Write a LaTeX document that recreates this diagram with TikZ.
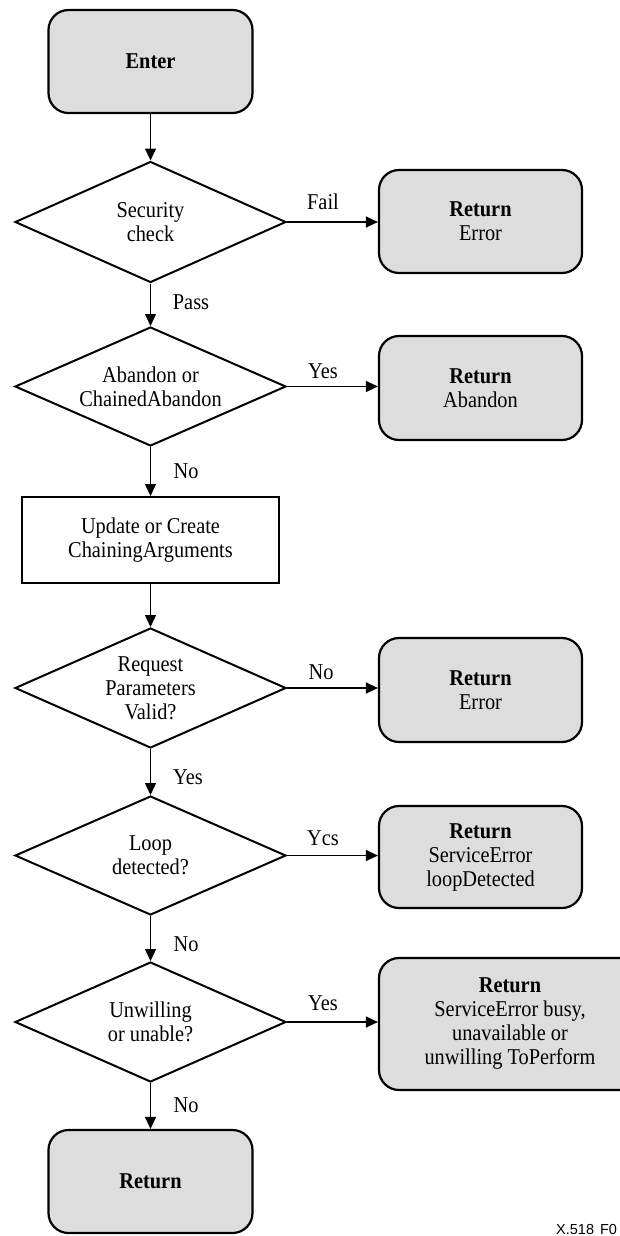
\documentclass[tikz,border=0pt]{standalone}
\usepackage{fontspec}
\setmainfont{Liberation Serif}[FakeStretch=0.9]
\newfontfamily\labsans{Liberation Sans}
\usetikzlibrary{shapes.geometric,arrows.meta}
\definecolor{boxgray}{RGB}{221,221,221}
\begin{document}
\begin{tikzpicture}[x=1pt,y=-1pt,
  every node/.style={font=\fontsize{22.6}{24}\selectfont, inner sep=0pt},
  term/.style={draw, line width=2.2pt, fill=boxgray, rounded corners=20pt, align=center, rectangle},
  dec/.style={draw, diamond, shape aspect=2.27, line width=2pt, minimum width=271pt, align=center},
  proc/.style={draw, rectangle, line width=2pt, minimum width=257pt, minimum height=86pt, align=center},
  lbl/.style={anchor=center},
  arr/.style={line width=1.3pt, -{Triangle[length=12pt,width=11pt]}}]
\path[use as bounding box] (0,0) rectangle (620,1236);
\clip (0,0) rectangle (620,1236);

% main column
\node[term, minimum width=204pt, minimum height=103pt] (enter) at (150.5,61.5) {\textbf{Enter}};
\node[dec, minimum height=121pt] (d1) at (150.5,222) {Security\\check};
\node[dec, minimum height=119pt] (d2) at (150.5,386.5) {Abandon or\\ChainedAbandon};
\node[proc] (upd) at (150.5,540) {Update or Create\\ChainingArguments};
\node[dec, minimum height=120pt] (d3) at (150.5,688) {Request\\Parameters\\Valid?};
\node[dec, minimum height=119pt] (d4) at (150.5,855.5) {Loop\\detected?};
\node[dec, minimum height=120pt] (d5) at (150.5,1022) {Unwilling\\or unable?};
\node[term, minimum width=204pt, minimum height=103pt] (ret) at (150.5,1181.5) {\textbf{Return}};

% right column
\node[term, minimum width=203pt, minimum height=103pt] (r1) at (480.5,221.5) {\textbf{Return}\\Error};
\node[term, minimum width=203pt, minimum height=104pt] (r2) at (480.5,388) {\textbf{Return}\\Abandon};
\node[term, minimum width=203pt, minimum height=104pt] (r3) at (480.5,690) {\textbf{Return}\\Error};
\node[term, minimum width=203pt, minimum height=102pt] (r4) at (480.5,857) {\textbf{Return}\\ServiceError\\loopDetected};
\node[term, minimum width=262pt, minimum height=132pt] (r5) at (510,1024) {\textbf{Return}\\ServiceError busy,\\unavailable or\\unwilling ToPerform};

% vertical connectors
\draw[arr] (enter.south) -- (d1.north);
\draw[arr] (d1.south) -- (d2.north);
\draw[arr] (d2.south) -- (upd.north);
\draw[arr] (upd.south) -- (d3.north);
\draw[arr] (d3.south) -- (d4.north);
\draw[arr] (d4.south) -- (d5.north);
\draw[arr] (d5.south) -- (ret.north);

% horizontal connectors
\draw[arr] (d1.east) -- (d1.east -| r1.west);
\draw[arr] (d2.east) -- (d2.east -| r2.west);
\draw[arr] (d3.east) -- (d3.east -| r3.west);
\draw[arr] (d4.east) -- (d4.east -| r4.west);
\draw[arr] (d5.east) -- (d5.east -| r5.west);

% labels
\node[lbl] (l1) at (323,202) {Fail};
\node[lbl] (l2) at (191,302) {Pass};
\node[lbl] (l3) at (323,371) {Yes};
\node[lbl] (l4) at (186,471) {No};
\node[lbl] (l5) at (321,672) {No};
\node[lbl] (l6) at (188,777) {Yes};
\node[lbl] (l7) at (323,838) {Ycs};
\node[lbl] (l8) at (186,944) {No};
\node[lbl] (l9) at (323,1003) {Yes};
\node[lbl] (l10) at (186,1105) {No};

\node[anchor=base west, font=\labsans\fontsize{14.5}{16}\selectfont] (fig) at (556,1234) {X.518\kern6pt F0};
\end{tikzpicture}
\end{document}
